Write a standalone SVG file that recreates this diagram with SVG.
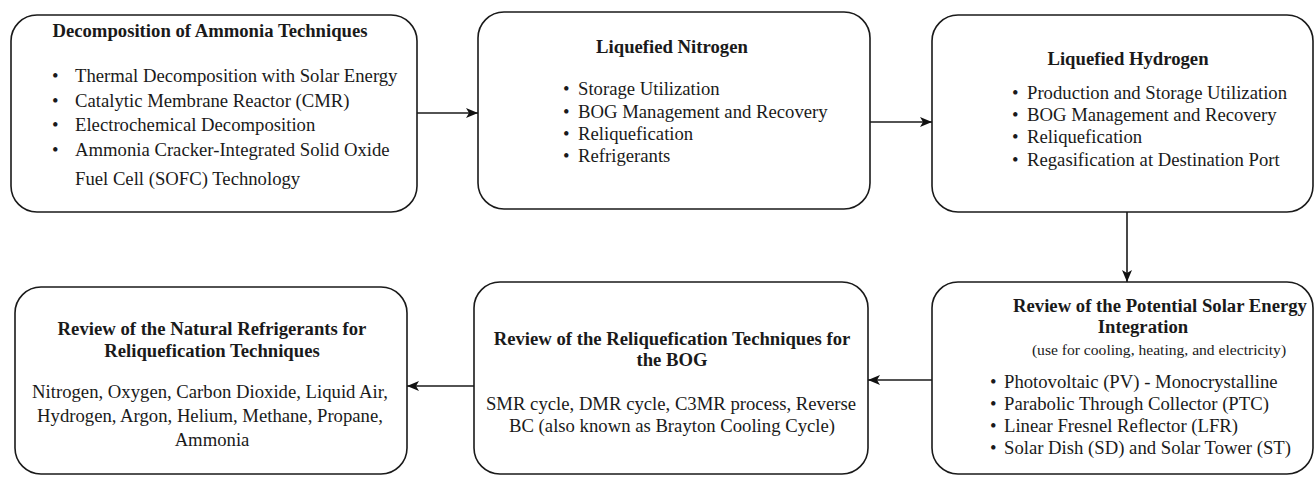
<svg xmlns="http://www.w3.org/2000/svg" width="1314" height="479" viewBox="0 0 1314 479">
<defs>
<marker id="arr" markerUnits="userSpaceOnUse" markerWidth="13" markerHeight="11" refX="12" refY="5" orient="auto">
<path d="M0,0 L12,5 L0,10 L3,5 Z" fill="#111"/>
</marker>
<style>
.box{fill:#fff;stroke:#1a1a1a;stroke-width:1.6}
.t{font-family:"Liberation Serif","Times New Roman",serif;font-size:18.7px;fill:#1a1a1a}
.b{font-weight:bold}
.c{text-anchor:middle}
.s{font-size:15.6px}
.edge{fill:none;stroke:#1a1a1a;stroke-width:1.6;marker-end:url(#arr)}
</style>
</defs>
<rect width="1314" height="479" fill="#fff"/>
<g id="node-decomposition">
<rect class="box" x="11" y="15" width="406" height="197" rx="26"/>
<text class="t b c" x="210" y="37">Decomposition of Ammonia Techniques</text>
<text class="t" x="52" y="82">•</text><text class="t" x="75" y="82">Thermal Decomposition with Solar Energy</text>
<text class="t" x="52" y="107">•</text><text class="t" x="75" y="107">Catalytic Membrane Reactor (CMR)</text>
<text class="t" x="52" y="131">•</text><text class="t" x="75" y="131">Electrochemical Decomposition</text>
<text class="t" x="52" y="156">•</text><text class="t" x="75" y="156">Ammonia Cracker-Integrated Solid Oxide</text>
<text class="t" x="75" y="185">Fuel Cell (SOFC) Technology</text>
</g>
<g id="node-liquefied-nitrogen">
<rect class="box" x="478" y="12" width="392" height="197" rx="26"/>
<text class="t b c" x="672" y="53">Liquefied Nitrogen</text>
<text class="t" x="563" y="95">•</text><text class="t" x="578" y="95">Storage Utilization</text>
<text class="t" x="563" y="118">•</text><text class="t" x="578" y="118">BOG Management and Recovery</text>
<text class="t" x="563" y="140">•</text><text class="t" x="578" y="140">Reliquefication</text>
<text class="t" x="563" y="162">•</text><text class="t" x="578" y="162">Refrigerants</text>
</g>
<g id="node-liquefied-hydrogen">
<rect class="box" x="932" y="15" width="381" height="197" rx="26"/>
<text class="t b c" x="1128" y="65">Liquefied Hydrogen</text>
<text class="t" x="1012" y="99">•</text><text class="t" x="1027" y="99">Production and Storage Utilization</text>
<text class="t" x="1012" y="121">•</text><text class="t" x="1027" y="121">BOG Management and Recovery</text>
<text class="t" x="1012" y="143">•</text><text class="t" x="1027" y="143">Reliquefication</text>
<text class="t" x="1012" y="166">•</text><text class="t" x="1027" y="166">Regasification at Destination Port</text>
</g>
<g id="node-natural-refrigerants">
<rect class="box" x="15" y="287" width="392" height="187" rx="26"/>
<text class="t b c" x="212" y="335">Review of the Natural Refrigerants for</text>
<text class="t b c" x="212" y="357">Reliquefication Techniques</text>
<text class="t c" x="210" y="398">Nitrogen, Oxygen, Carbon Dioxide, Liquid Air,</text>
<text class="t c" x="210" y="422">Hydrogen, Argon, Helium, Methane, Propane,</text>
<text class="t c" x="212" y="446">Ammonia</text>
</g>
<g id="node-reliquefication">
<rect class="box" x="474" y="282" width="394" height="192" rx="26"/>
<text class="t b c" x="672" y="345">Review of the Reliquefication Techniques for</text>
<text class="t b c" x="672" y="366">the BOG</text>
<text class="t c" x="671" y="410">SMR cycle, DMR cycle, C3MR process, Reverse</text>
<text class="t c" x="672" y="432">BC (also known as Brayton Cooling Cycle)</text>
</g>
<g id="node-solar">
<rect class="box" x="932" y="282" width="381" height="192" rx="26"/>
<text class="t b c" x="1160" y="312">Review of the Potential Solar Energy</text>
<text class="t b c" x="1143" y="333">Integration</text>
<text class="t s c" x="1159" y="355">(use for cooling, heating, and electricity)</text>
<text class="t" x="990" y="388">•</text><text class="t" x="1004" y="388">Photovoltaic (PV) - Monocrystalline</text>
<text class="t" x="990" y="410">•</text><text class="t" x="1004" y="410">Parabolic Through Collector (PTC)</text>
<text class="t" x="990" y="432">•</text><text class="t" x="1004" y="432">Linear Fresnel Reflector (LFR)</text>
<text class="t" x="990" y="454">•</text><text class="t" x="1004" y="454">Solar Dish (SD) and Solar Tower (ST)</text>
</g>
<g id="connectors">
<line class="edge" x1="417" y1="113" x2="478" y2="113"/>
<line class="edge" x1="870" y1="122" x2="932" y2="122"/>
<line class="edge" x1="1127" y1="212" x2="1127" y2="282"/>
<line class="edge" x1="932" y1="380" x2="868" y2="380"/>
<line class="edge" x1="474" y1="386" x2="407" y2="386"/>
</g>
</svg>
